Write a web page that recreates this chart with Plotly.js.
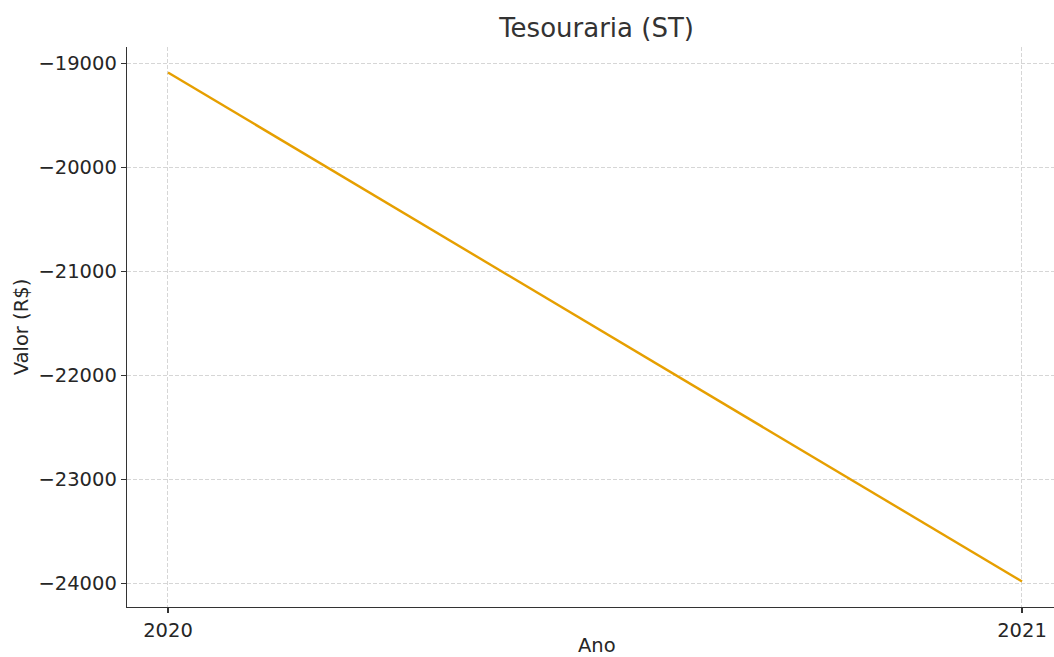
<!DOCTYPE html>
<html>
<head>
<meta charset="utf-8">
<script src="https://cdn.plot.ly/plotly-3.0.1.min.js"></script>
<style>html,body{margin:0;padding:0;background:#fff;}#chart{width:1054px;height:657px;}</style>
</head>
<body>
<div id="chart"></div>
<script>
const years = [2020, 2021];
const valores = [-19087, -23981];
const yTicks = [-24000, -23000, -22000, -21000, -20000, -19000];

const font = "DejaVu Sans, sans-serif";
const trace = {
  x: years, y: valores, type: 'scatter', mode: 'lines',
  line: {color: '#E69F00', width: 2.4}, hoverinfo: 'skip'
};
const layout = {
  width: 1054, height: 657,
  margin: {l: 127, r: 0, t: 47, b: 50},
  paper_bgcolor: '#fff', plot_bgcolor: '#fff',
  showlegend: false,
  title: {text: 'Tesouraria (ST)', font: {family: font, size: 26, color: '#333'}, xref: 'paper', x: 0.5065, xanchor: 'center', y: 0.957, yanchor: 'middle'},
  xaxis: {
    range: [2019.952, 2021.0375], tickvals: years, ticktext: years.map(String),
    showgrid: true, gridcolor: '#d6d6d6', griddash: '4px,2px', gridwidth: 1,
    showline: true, linecolor: '#333', linewidth: 1.3, zeroline: false,
    ticks: 'outside', ticklen: 5, tickcolor: '#333', tickwidth: 1.2,
    tickfont: {family: font, size: 19.5, color: '#262626'}
  },
  yaxis: {
    range: [-24226, -18842], tickvals: yTicks, tickformat: 'd',
    showgrid: true, gridcolor: '#d6d6d6', griddash: '4px,2px', gridwidth: 1,
    showline: true, linecolor: '#333', linewidth: 1.3, zeroline: false,
    ticks: 'outside', ticklen: 5, tickcolor: '#333', tickwidth: 1.2,
    tickfont: {family: font, size: 19.5, color: '#262626'},
    title: {text: 'Valor (R$)', font: {family: font, size: 19.5, color: '#262626'}, standoff: 4}
  },
  annotations: [{
    text: 'Ano', xref: 'paper', yref: 'paper', x: 0.5066, y: -0.0679,
    xanchor: 'center', yanchor: 'middle', showarrow: false,
    font: {family: font, size: 19.5, color: '#262626'}
  }]
};
Plotly.newPlot('chart', [trace], layout, {displayModeBar: false, staticPlot: true});
</script>
</body>
</html>
